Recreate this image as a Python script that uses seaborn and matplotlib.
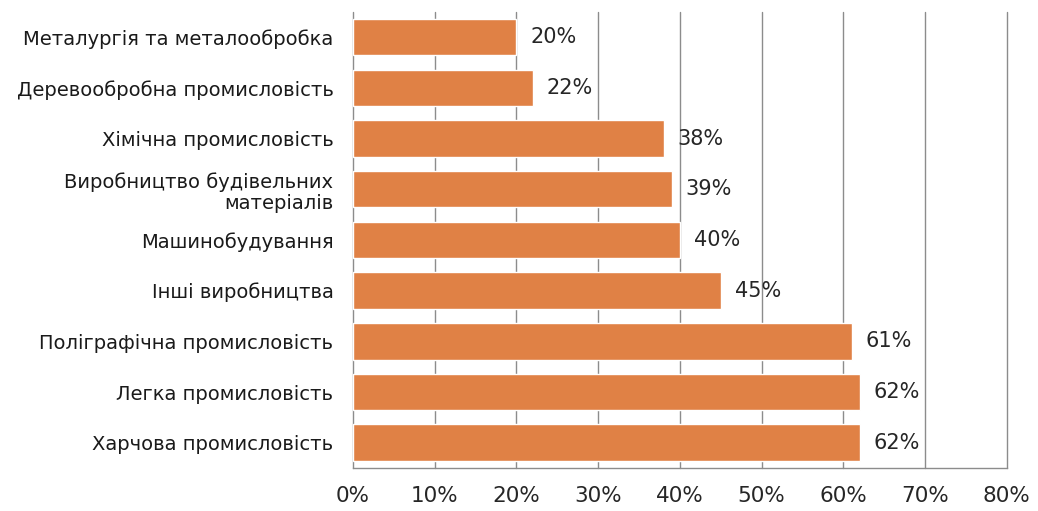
import matplotlib
matplotlib.use("Agg")
import matplotlib.pyplot as plt
import seaborn as sns
import pandas as pd

categories = [
    "Металургія та металообробка",
    "Деревообробна промисловість",
    "Хімічна промисловість",
    "Виробництво будівельних\nматеріалів",
    "Машинобудування",
    "Інші виробництва",
    "Поліграфічна промисловість",
    "Легка промисловість",
    "Харчова промисловість",
]
values = [20, 22, 38, 39, 40, 45, 61, 62, 62]
x_ticks = [0, 10, 20, 30, 40, 50, 60, 70, 80]
x_tick_labels = [f"{t}%" for t in x_ticks]

df = pd.DataFrame({"category": categories, "value": values})

sns.set_theme(style="white")
plt.rcParams["font.family"] = ["DejaVu Sans"]

fig = plt.figure(figsize=(10.38, 5.11), dpi=100)
ax = fig.add_axes([0.340, 0.084, 0.630, 0.893])

sns.barplot(data=df, x="value", y="category", color="#E08145",
            width=0.72, saturation=1, ax=ax, zorder=3)

ax.set_xlim(0, 80)
ax.set_xticks(x_ticks)
ax.set_xticklabels(x_tick_labels, fontsize=15.5, color="#262626")
ax.tick_params(axis="x", length=5, color="#8c8c8c", width=1, pad=8)
ax.tick_params(axis="y", length=0, labelsize=14, labelcolor="#1a1a1a", pad=14)
for lbl in ax.get_yticklabels():
    lbl.set_linespacing(1.15)
ax.grid(axis="x", color="#8c8c8c", linewidth=1, zorder=0)
for gl in ax.get_xgridlines():
    gl.set_clip_on(False)
ax.set_xlabel("")
ax.set_ylabel("")
for side in ["top", "right", "left"]:
    ax.spines[side].set_visible(False)
ax.spines["bottom"].set_color("#8c8c8c")
ax.spines["bottom"].set_linewidth(1)

for i, v in enumerate(values):
    ax.text(v + 1.7, i, f"{v}%", va="center", ha="left",
            fontsize=15, color="#262626")

fig.savefig("out.png", dpi=100)
